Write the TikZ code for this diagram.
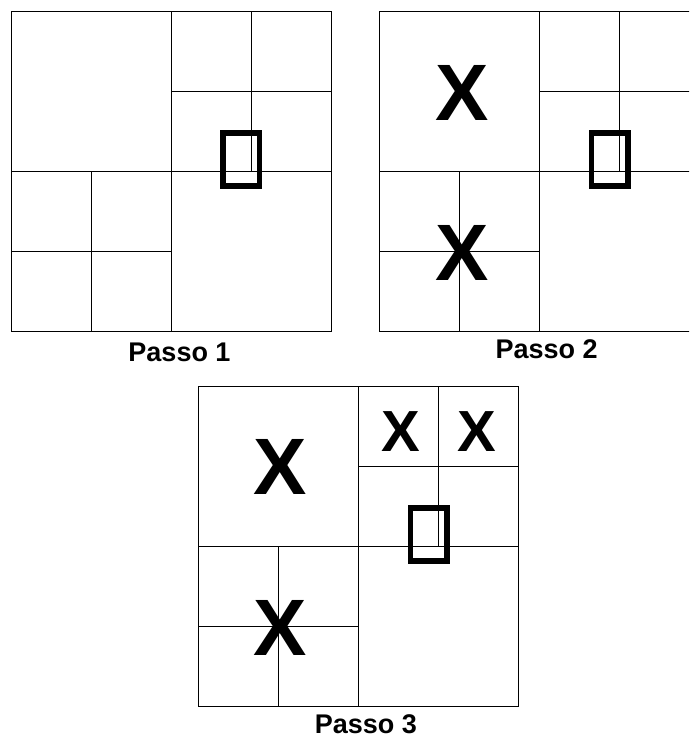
\documentclass[tikz,border=0pt]{standalone}
\usepackage{fontspec}
\setmainfont{Liberation Sans}
\begin{document}
\begin{tikzpicture}[x=1pt,y=-1pt,
  grid/.style={draw=black,line width=0.9pt},
  cursor/.style={draw=black,line width=5.5pt},
  bigx/.style={inner sep=0pt,anchor=base,font=\fontsize{80}{80}\selectfont\bfseries},
  smallx/.style={inner sep=0pt,anchor=base,font=\fontsize{58}{58}\selectfont\bfseries},
  caption/.style={inner sep=0pt,anchor=base,text depth=0pt,font=\fontsize{27}{30}\selectfont\bfseries}]
\useasboundingbox (0,0) rectangle (689,736);
\clip (0,0) rectangle (689,736);
\newcommand\qtpanel{%
  \draw[grid] (0,0) rectangle (320,320);
  \draw[grid] (160,0) -- (160,320);
  \draw[grid] (0,160) -- (320,160);
  \draw[grid] (240,0) -- (240,160);
  \draw[grid] (160,80) -- (320,80);
  \draw[grid] (80,160) -- (80,320);
  \draw[grid] (0,240) -- (160,240);
  \draw[cursor] (212,121.8) rectangle (248.7,175.2);
}
% Panel 1
\begin{scope}[shift={(11,11)}]
  \qtpanel
\end{scope}
\node[caption] (c1) at (179.5,361) {Passo 1};
% Panel 2
\begin{scope}[shift={(379.3,11)}]
  \qtpanel
\end{scope}
\node[bigx] (x21) at (461.7,120) {X};
\node[bigx] (x22) at (461.7,280) {X};
\node[caption] (c2) at (546.7,358.3) {Passo 2};
% Panel 3
\begin{scope}[shift={(198.3,386)}]
  \qtpanel
\end{scope}
\node[bigx] (x31) at (280.5,494) {X};
\node[bigx] (x32) at (280.5,655) {X};
\node[smallx] (x33) at (401,451.7) {X};
\node[smallx] (x34) at (477,451.7) {X};
\node[caption] (c3) at (365.8,733.5) {Passo 3};
\end{tikzpicture}
\end{document}
